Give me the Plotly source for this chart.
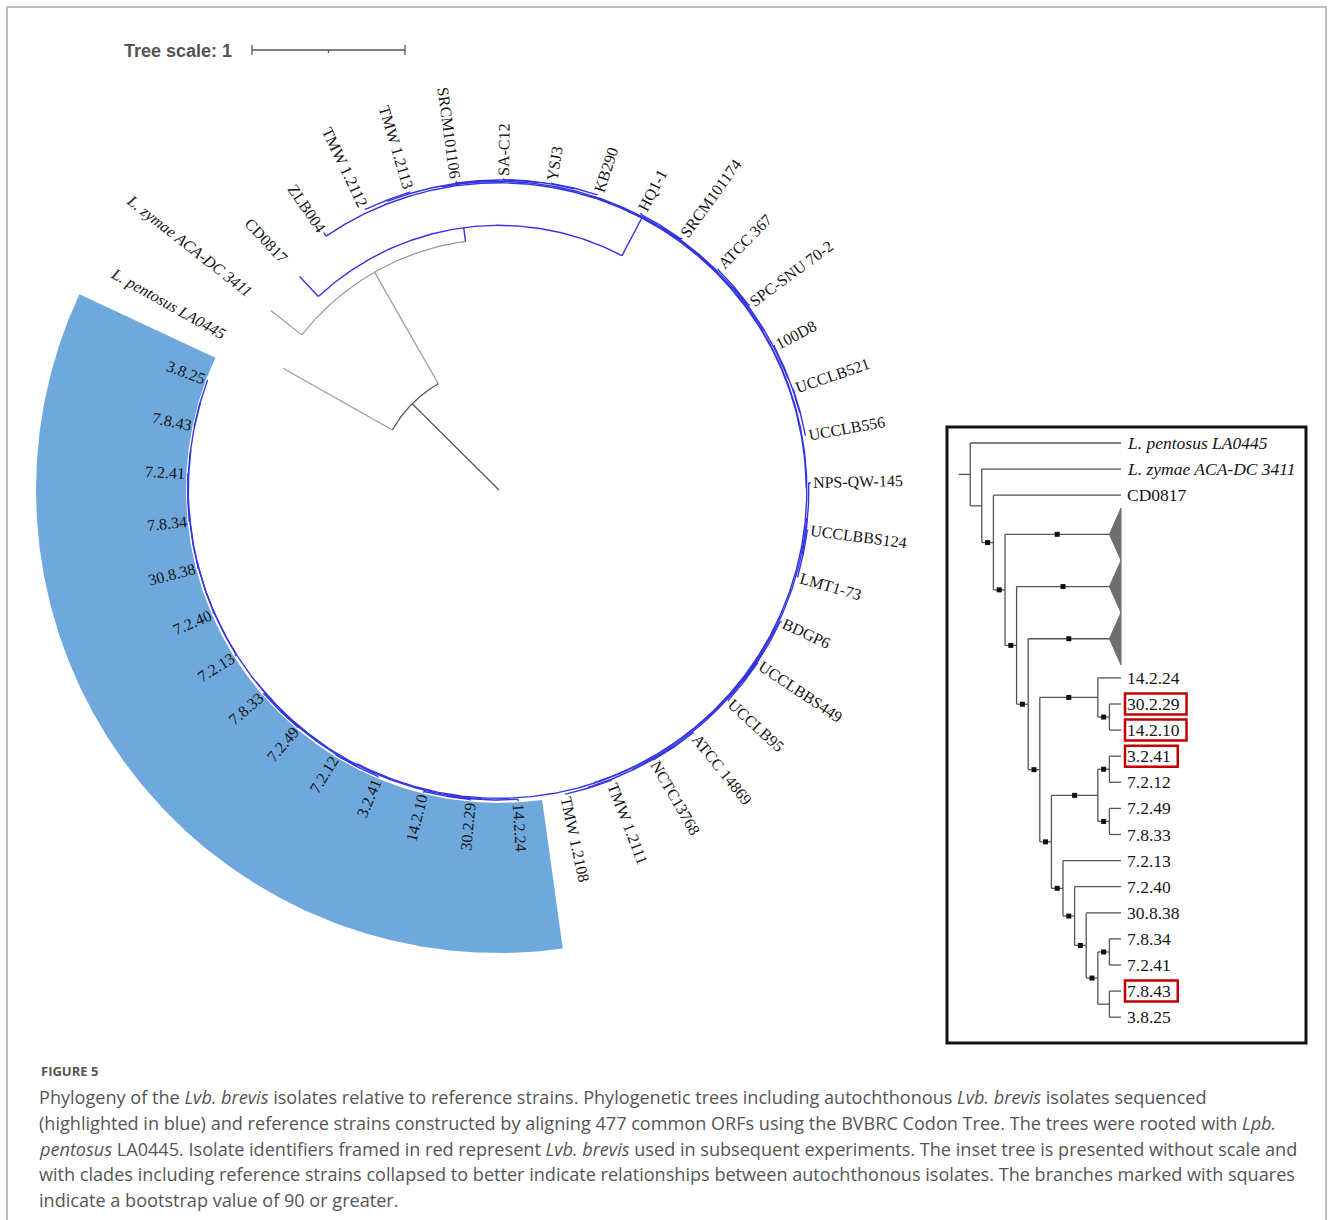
import math
import plotly.graph_objects as go

# ---------------------------------------------------------------------------
# Data
# ---------------------------------------------------------------------------
# Codon tree (branch lengths in tree units), rooted with L. pentosus.
CIRCULAR_NEWICK = (
    "('L. pentosus LA0445':0.82,"
    "('L. zymae ACA-DC 3411':0.26,"
    "('CD0817':0.18,"
    "('ZLB004':0.028,"
    "(("
    "(('TMW 1.2112':0.006,'TMW 1.2113':0.006):0.008,"
    "('SRCM101106':0.012,('SA-C12':0.008,('YSJ3':0.004,'KB290':0.004):0.004):0.003):0.003):0.006,"
    "(('HQ1-1':0.011,'SRCM101174':0.011):0.006,"
    "(('ATCC 367':0.006,'SPC-SNU 70-2':0.006):0.007,"
    "('100D8':0.008,('UCCLB521':0.004,'UCCLB556':0.004):0.004):0.005):0.004):0.003"
    "):0.005,"
    "("
    "(('NPS-QW-145':0.014,('UCCLBBS124':0.007,'LMT1-73':0.007):0.007):0.004,"
    "(('BDGP6':0.009,('UCCLBBS449':0.005,'UCCLB95':0.005):0.004):0.005,"
    "(('ATCC 14869':0.006,'NCTC13768':0.006):0.004,('TMW 1.2111':0.004,'TMW 1.2108':0.004):0.006):0.004):0.003):0.006,"
    "(('14.2.24':0.012,('30.2.29':0.007,'14.2.10':0.007):0.005):0.004,"
    "((('3.2.41':0.005,'7.2.12':0.005):0.004,('7.2.49':0.005,'7.8.33':0.005):0.004):0.004,"
    "('7.2.13':0.011,('7.2.40':0.009,('30.8.38':0.007,(('7.8.34':0.003,'7.2.41':0.003):0.002,"
    "('7.8.43':0.003,'3.8.25':0.003):0.002):0.002):0.002):0.002):0.002):0.003):0.007"
    "):0.003"
    "):0.004"
    "):0.278"
    "):0.09"
    "):0.84"
    "):0.80;"
)

# Autochthonous isolates (highlighted range)
ISOLATES = ["14.2.24", "30.2.29", "14.2.10", "3.2.41", "7.2.12", "7.2.49", "7.8.33",
            "7.2.13", "7.2.40", "30.8.38", "7.8.34", "7.2.41", "7.8.43", "3.8.25"]
# Clade coloured blue: defined by its two outermost members
BLUE_CLADE = ("CD0817", "3.8.25")
ITALIC_LABELS = ["L. pentosus LA0445", "L. zymae ACA-DC 3411"]
TREE_SCALE = 1

# Inset cladogram: internal labels are bootstrap supports
INSET_NEWICK = (
    "('L. pentosus LA0445',('L. zymae ACA-DC 3411',('CD0817',('reference clade I',"
    "('reference clade II',('reference clade III',(('14.2.24',('30.2.29','14.2.10')100)100,"
    "((('3.2.41','7.2.12')100,('7.2.49','7.8.33')100)100,"
    "('7.2.13',('7.2.40',('30.8.38',(('7.8.34','7.2.41')100,('7.8.43','3.8.25'))100)100)100)100"
    ")100)100)100)100)100)100));"
)
COLLAPSED_CLADES = {"reference clade I": 100, "reference clade II": 100, "reference clade III": 100}
FRAMED = ["30.2.29", "14.2.10", "3.2.41", "7.8.43"]
SUPPORT_THRESHOLD = 90

CAPTION_TITLE = "FIGURE 5"
CAPTION_LINES = [
    "Phylogeny of the <i>Lvb. brevis</i> isolates relative to reference strains. Phylogenetic trees "
    "including autochthonous <i>Lvb. brevis</i> isolates sequenced",
    "(highlighted in blue) and reference strains constructed by aligning 477 common ORFs using the "
    "BVBRC Codon Tree. The trees were rooted with <i>Lpb.</i>",
    "<i>pentosus</i> LA0445. Isolate identifiers framed in red represent <i>Lvb. brevis</i> used in "
    "subsequent experiments. The inset tree is presented without scale and",
    "with clades including reference strains collapsed to better indicate relationships between "
    "autochthonous isolates. The branches marked with squares",
    "indicate a bootstrap value of 90 or greater.",
]

# ---------------------------------------------------------------------------
# Layout constants (pixels)
# ---------------------------------------------------------------------------
W, H = 1333, 1220
CX, CY = 499.0, 490.0
PX_PER_UNIT = 153.0
FIRST_LEAF_DEG = 150.6
LABEL_R = 314.0
BAND_R_IN, BAND_R_OUT = 313.0, 463.0
LEAF_FONT = 16.0

INSET_BOX = (947, 427, 1306, 1043)
INSET_TIP = 1121.0
INSET_STEP = 11.6
INSET_ROW0 = 443.0
INSET_ROW = 26.1
INSET_FONT = 17.5

GRAY = "#9a9a9a"
DARK = "#5a5a5a"
BLUE = "#3434e2"
BAND = "#6fa8dc"
RED = "#c00000"

# Times / Liberation Serif advance widths (per 1000 em)
TIMES_W = {" ": 250, ".": 250, "-": 333, ":": 278}
TIMES_W.update({d: 500 for d in "0123456789"})
TIMES_W.update(dict(zip("ABCDEFGHIJKLMNOPQRSTUVWXYZ",
                        [722, 667, 667, 722, 611, 556, 722, 722, 333, 389, 722, 611, 889,
                         722, 722, 556, 722, 667, 556, 611, 722, 722, 944, 722, 722, 611])))
TIMES_W.update(dict(zip("abcdefghijklmnopqrstuvwxyz",
                        [444, 500, 444, 500, 444, 333, 500, 500, 278, 278, 500, 278, 778,
                         500, 500, 500, 500, 333, 389, 278, 500, 500, 722, 500, 500, 444])))


def text_width(s, size):
    return sum(TIMES_W.get(ch, 500) for ch in s) / 1000.0 * size


# ---------------------------------------------------------------------------
# Newick parsing
# ---------------------------------------------------------------------------
def parse_newick(text):
    s = text.strip().rstrip(";")
    pos = 0

    def read_label():
        nonlocal pos
        if pos < len(s) and s[pos] == "'":
            end = s.index("'", pos + 1)
            lab = s[pos + 1:end]
            pos = end + 1
            return lab
        start = pos
        while pos < len(s) and s[pos] not in ",():":
            pos += 1
        return s[start:pos]

    def node():
        nonlocal pos
        n = {"children": [], "label": "", "length": 0.0}
        if s[pos] == "(":
            pos += 1
            n["children"].append(node())
            while s[pos] == ",":
                pos += 1
                n["children"].append(node())
            pos += 1
        n["label"] = read_label()
        if pos < len(s) and s[pos] == ":":
            pos += 1
            start = pos
            while pos < len(s) and s[pos] not in ",()":
                pos += 1
            n["length"] = float(s[start:pos])
        return n

    return node()


def leaves_of(n):
    if not n["children"]:
        return [n]
    out = []
    for c in n["children"]:
        out.extend(leaves_of(c))
    return out


def walk(n):
    yield n
    for c in n["children"]:
        yield from walk(c)


# ---------------------------------------------------------------------------
# Circular tree layout
# ---------------------------------------------------------------------------
tree = parse_newick(CIRCULAR_NEWICK)
tips = leaves_of(tree)
n_tips = len(tips)
spacing = 360.0 / n_tips
for i, lf in enumerate(tips):
    lf["ang"] = FIRST_LEAF_DEG - i * spacing


def place(n, r_parent):
    n["r0"] = r_parent
    n["r"] = r_parent + n["length"] * PX_PER_UNIT
    if n["children"]:
        for c in n["children"]:
            place(c, n["r"])
        n["ang"] = (n["children"][0]["ang"] + n["children"][-1]["ang"]) / 2.0


place(tree, 0.0)


def polar(r, a_deg):
    t = math.radians(a_deg)
    return CX + r * math.cos(t), CY - r * math.sin(t)


def arc(r, a0, a1, step=0.4):
    k = max(2, int(abs(a1 - a0) / step) + 1)
    return [polar(r, a0 + (a1 - a0) * j / (k - 1)) for j in range(k)]


# find the blue clade (most recent common ancestor of the two members)
def mrca(n, names):
    for c in n["children"]:
        lab = {x["label"] for x in leaves_of(c)}
        if all(nm in lab for nm in names):
            return mrca(c, names)
    return n


blue_root = mrca(tree, BLUE_CLADE)
blue_ids = {id(x) for x in walk(blue_root)}

segs = {"gray": ([], []), "dark": ([], []), "blue": ([], [])}


def add(key, pts):
    xs, ys = segs[key]
    for x, y in pts:
        xs.append(x)
        ys.append(y)
    xs.append(None)
    ys.append(None)


for n in walk(tree):
    key = "blue" if id(n) in blue_ids else ("dark" if n is tree else "gray")
    add(key, [polar(n["r0"], n["ang"]), polar(n["r"], n["ang"])])
    if n["children"]:
        add(key, arc(n["r"], n["children"][0]["ang"], n["children"][-1]["ang"]))

fig = go.Figure()

# outer frame
fig.add_trace(go.Scatter(x=[7, 7, 1326, 1326], y=[1240, 7, 7, 1240], mode="lines",
                         line=dict(color="#a8a8a8", width=1.5), hoverinfo="skip", showlegend=False))

# highlighted isolate range
iso_angles = [lf["ang"] for lf in tips if lf["label"] in ISOLATES]
a_start = max(iso_angles) + spacing / 2
a_end = min(iso_angles) - spacing / 2
band = arc(BAND_R_OUT, a_start, a_end) + arc(BAND_R_IN, a_end, a_start)
fig.add_trace(go.Scatter(x=[p[0] for p in band], y=[p[1] for p in band], mode="lines",
                         fill="toself", fillcolor=BAND, line=dict(width=0, color=BAND),
                         hoverinfo="skip", showlegend=False))

for key, color, width in [("gray", GRAY, 1.2), ("dark", DARK, 1.3), ("blue", BLUE, 1.4)]:
    xs, ys = segs[key]
    fig.add_trace(go.Scatter(x=xs, y=ys, mode="lines", line=dict(color=color, width=width),
                             hoverinfo="skip", showlegend=False))

annotations = []

for lf in tips:
    name = lf["label"]
    a = (lf["ang"] + 180.0) % 360.0 - 180.0
    w = text_width(name, LEAF_FONT)
    x, y = polar(LABEL_R + w / 2.0, a)
    if -90.0 <= a <= 90.0:
        rot = -a
    else:
        rot = 180.0 - a
    rot = (rot + 180.0) % 360.0 - 180.0
    txt = "<i>%s</i>" % name if name in ITALIC_LABELS else name
    annotations.append(dict(x=x, y=y, xref="x", yref="y", text=txt, showarrow=False,
                            textangle=rot, xanchor="center", yanchor="middle",
                            font=dict(family="Liberation Serif", size=LEAF_FONT, color="#151515")))

# tree scale bar
sb_x0, sb_y = 252.0, 50.0
sb_x1 = sb_x0 + TREE_SCALE * PX_PER_UNIT
sb_mid = (sb_x0 + sb_x1) / 2
fig.add_trace(go.Scatter(
    x=[sb_x0, sb_x1, None, sb_x0, sb_x0, None, sb_x1, sb_x1, None, sb_mid, sb_mid],
    y=[sb_y, sb_y, None, sb_y - 5, sb_y + 5, None, sb_y - 5, sb_y + 5, None, sb_y, sb_y + 3],
    mode="lines", line=dict(color="#555555", width=1.3), hoverinfo="skip", showlegend=False))
annotations.append(dict(x=122, y=sb_y + 1, xref="x", yref="y", text="<b>Tree scale: %g</b>" % TREE_SCALE,
                        showarrow=False, xanchor="left", yanchor="middle",
                        font=dict(family="Liberation Sans", size=18, color="#555555")))

# ---------------------------------------------------------------------------
# Inset cladogram
# ---------------------------------------------------------------------------
inset = parse_newick(INSET_NEWICK)
row_counter = [0]


def lay(n):
    if not n["children"]:
        k = 2 if n["label"] in COLLAPSED_CLADES else 1
        n["y"] = INSET_ROW0 + (row_counter[0] + (k - 1) / 2.0) * INSET_ROW
        row_counter[0] += k
        n["x"] = INSET_TIP - INSET_STEP if k == 2 else INSET_TIP
    else:
        for c in n["children"]:
            lay(c)
        n["y"] = (n["children"][0]["y"] + n["children"][-1]["y"]) / 2.0
        n["x"] = min(c["x"] for c in n["children"]) - INSET_STEP


lay(inset)

ix, iy = [], []
sq_x, sq_y = [], []
tri_x, tri_y = [], []


def seg(x0, y0, x1, y1):
    ix.extend([x0, x1, None])
    iy.extend([y0, y1, None])


seg(inset["x"] - INSET_STEP, inset["y"], inset["x"], inset["y"])
for n in walk(inset):
    if not n["children"]:
        continue
    seg(n["x"], n["children"][0]["y"], n["x"], n["children"][-1]["y"])
    for c in n["children"]:
        seg(n["x"], c["y"], c["x"], c["y"])
        if c["children"]:
            sup = float(c["label"]) if c["label"] else 0.0
        else:
            sup = COLLAPSED_CLADES.get(c["label"], 0.0)
        if sup >= SUPPORT_THRESHOLD:
            sq_x.append((n["x"] + c["x"]) / 2.0)
            sq_y.append(c["y"])
        if c["label"] in COLLAPSED_CLADES:
            tri_x.extend([c["x"], INSET_TIP, INSET_TIP, c["x"], None])
            tri_y.extend([c["y"], c["y"] - INSET_ROW, c["y"] + INSET_ROW, c["y"], None])

fig.add_trace(go.Scatter(x=tri_x, y=tri_y, mode="lines", fill="toself", fillcolor="#6e6e6e",
                         line=dict(color="#6e6e6e", width=1), hoverinfo="skip", showlegend=False))
fig.add_trace(go.Scatter(x=ix, y=iy, mode="lines", line=dict(color="#555555", width=1.3),
                         hoverinfo="skip", showlegend=False))
fig.add_trace(go.Scatter(x=sq_x, y=sq_y, mode="markers",
                         marker=dict(symbol="square", size=5, color="#111111"),
                         hoverinfo="skip", showlegend=False))

shapes = [dict(type="rect", xref="x", yref="y", x0=INSET_BOX[0], y0=INSET_BOX[1],
               x1=INSET_BOX[2], y1=INSET_BOX[3], line=dict(color="#111111", width=3))]

for lf in leaves_of(inset):
    name = lf["label"]
    if name in COLLAPSED_CLADES:
        continue
    txt = "<i>%s</i>" % name if name in ITALIC_LABELS else name
    lx = INSET_TIP + 4
    annotations.append(dict(x=lx, y=lf["y"], xref="x", yref="y", text=txt, showarrow=False,
                            xanchor="left", yanchor="middle",
                            font=dict(family="Liberation Serif", size=INSET_FONT, color="#151515")))
    if name in FRAMED:
        w = text_width(name, INSET_FONT)
        shapes.append(dict(type="rect", xref="x", yref="y", x0=lx, x1=lx + w + 9,
                           y0=lf["y"] - 10.5, y1=lf["y"] + 10.5,
                           line=dict(color=RED, width=2.5)))

# ---------------------------------------------------------------------------
# Caption
# ---------------------------------------------------------------------------
annotations.append(dict(x=39, y=1071, xref="x", yref="y", text="<b>%s</b>" % CAPTION_TITLE,
                        showarrow=False, xanchor="left", yanchor="middle",
                        font=dict(family="Open Sans", size=13, color="#555555")))
for k, line in enumerate(CAPTION_LINES):
    annotations.append(dict(x=37, y=1097 + k * 25.8, xref="x", yref="y", text=line,
                            showarrow=False, xanchor="left", yanchor="middle",
                            font=dict(family="Open Sans", size=18.1, color="#555555")))

fig.update_layout(
    width=W, height=H, margin=dict(l=0, r=0, t=0, b=0),
    paper_bgcolor="white", plot_bgcolor="white",
    xaxis=dict(range=[0, W], visible=False, showgrid=False, zeroline=False),
    yaxis=dict(range=[H, 0], visible=False, showgrid=False, zeroline=False),
    annotations=annotations, shapes=shapes, showlegend=False,
)

fig.write_html("out.html")
